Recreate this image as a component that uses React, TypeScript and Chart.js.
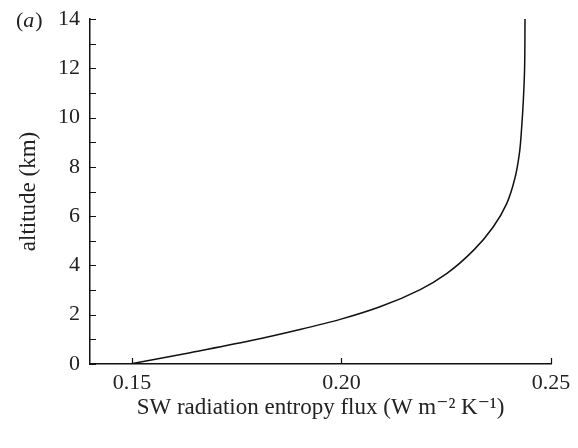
import React, { useEffect, useRef } from "react";
import { Chart, registerables } from "chart.js";

Chart.register(...registerables);

const fluxValues = [0.1495, 0.1639, 0.1782, 0.1901, 0.1997, 0.2092, 0.2188, 0.2251, 0.2315, 0.2362, 0.2394, 0.2414, 0.2425, 0.2430, 0.2434, 0.2437, 0.2438];
const altitudeValues = [0, 0.46, 0.94, 1.40, 1.81, 2.32, 3.02, 3.67, 4.61, 5.56, 6.50, 7.55, 8.60, 9.60, 10.70, 12.00, 14.0];
const xTickValues = [0.15, 0.2, 0.25];
const yMajorTicks = [0, 2, 4, 6, 8, 10, 12, 14];
const xTitle = "SW radiation entropy flux (W m\u207B\u00B2 K\u207B\u00B9)";
const yTitle = "altitude (km)";

const FONT = "'Liberation Serif', 'DejaVu Serif', serif";

export default function App() {
  const ref = useRef<HTMLCanvasElement | null>(null);
  useEffect(() => {
    if (!ref.current) return;
    const points = fluxValues.map((x, i) => ({ x, y: altitudeValues[i] }));
    const tickPlugin = {
      id: "inTicks",
      afterDraw(chart: any) {
        const ctx = chart.ctx;
        const xs = chart.scales.x;
        const ys = chart.scales.y;
        const area = chart.chartArea;
        ctx.save();
        ctx.strokeStyle = "#111";
        ctx.lineWidth = 1.2;
        ctx.beginPath();
        for (const v of xTickValues) {
          const px = Math.round(xs.getPixelForValue(v)) + 0.5;
          ctx.moveTo(px, area.bottom);
          ctx.lineTo(px, area.bottom - 6);
        }
        for (let v = 0; v <= 14; v++) {
          const py = Math.round(ys.getPixelForValue(v)) + 0.5;
          ctx.moveTo(area.left, py);
          ctx.lineTo(area.left + 6, py);
        }
        ctx.stroke();
        ctx.fillStyle = "#222";
        ctx.textBaseline = "middle";
        ctx.textAlign = "left";
        const y0 = ys.getPixelForValue(14) + 2;
        const x0 = 16;
        ctx.font = "22px " + FONT;
        ctx.fillText("(", x0, y0);
        const w1 = ctx.measureText("(").width;
        ctx.font = "italic 22px " + FONT;
        ctx.fillText("a", x0 + w1, y0);
        const w2 = ctx.measureText("a").width;
        ctx.font = "22px " + FONT;
        ctx.fillText(")", x0 + w1 + w2 + 1, y0);
        ctx.restore();
      },
    };
    const chart = new Chart(ref.current, {
      type: "scatter",
      data: {
        datasets: [
          {
            data: points,
            showLine: true,
            indexAxis: "y",
            borderColor: "#111",
            borderWidth: 1.5,
            pointRadius: 0,
            cubicInterpolationMode: "monotone",
            fill: false,
          },
        ],
      },
      options: {
        animation: false,
        responsive: false,
        layout: { padding: { top: 19, right: 27, left: 15, bottom: 26 } },
        plugins: { legend: { display: false }, tooltip: { enabled: false } },
        scales: {
          x: {
            type: "linear",
            min: 0.14,
            max: 0.25,
            afterBuildTicks: (s: any) => {
              s.ticks = xTickValues.map((v) => ({ value: v }));
            },
            afterFit: (s: any) => {
              s.height = 58;
              s.paddingLeft = 0;
              s.paddingRight = 0;
            },
            grid: { display: false, drawTicks: false },
            border: { display: true, color: "#111", width: 1.5 },
            ticks: {
              color: "#222",
              font: { family: FONT, size: 22 },
              padding: 6,
              callback: (v: any) => Number(v).toFixed(2),
              maxRotation: 0,
            },
            title: {
              display: true,
              text: xTitle,
              color: "#222",
              font: { family: FONT, size: 23 },
              padding: { top: 0, bottom: 0 },
            },
          },
          y: {
            type: "linear",
            min: 0,
            max: 14,
            afterBuildTicks: (s: any) => {
              s.ticks = yMajorTicks.map((v) => ({ value: v }));
            },
            afterFit: (s: any) => {
              s.width = 75;
              s.paddingTop = 0;
              s.paddingBottom = 0;
            },
            grid: { display: false, drawTicks: false },
            border: { display: true, color: "#111", width: 1.5 },
            ticks: {
              color: "#222",
              font: { family: FONT, size: 22 },
              padding: 10,
            },
            title: {
              display: true,
              text: yTitle,
              color: "#222",
              font: { family: FONT, size: 23 },
              padding: { top: 0, bottom: 0 },
            },
          },
        },
      },
      plugins: [tickPlugin],
    } as any);
    return () => chart.destroy();
  }, []);
  return (
    <div style={{ position: "fixed", left: 0, top: 0, width: 578, height: 448, background: "#fff" }}>
      <canvas ref={ref} width={578} height={448} style={{ display: "block" }} />
    </div>
  );
}
